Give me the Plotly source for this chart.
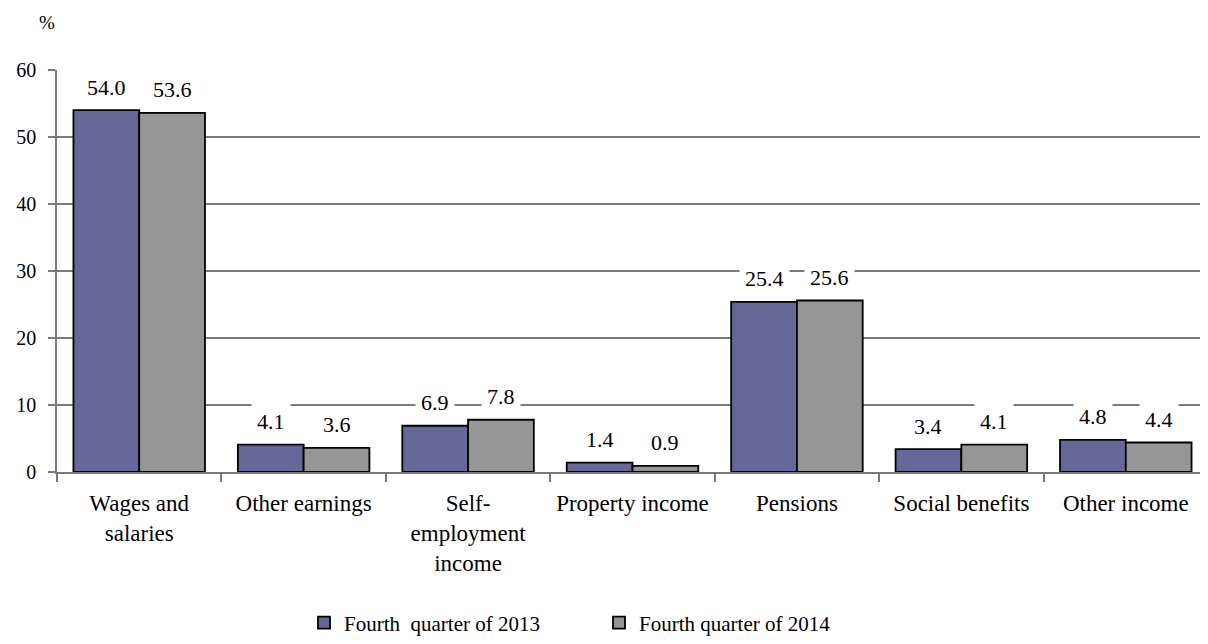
import plotly.graph_objects as go

categories = ["Wages and<br>salaries", "Other earnings", "Self-<br>employment<br>income",
              "Property income", "Pensions", "Social benefits", "Other income"]
q4_2013 = [54.0, 4.1, 6.9, 1.4, 25.4, 3.4, 4.8]
q4_2014 = [53.6, 3.6, 7.8, 0.9, 25.6, 4.1, 4.4]
series_names = ["Fourth  quarter of 2013", "Fourth quarter of 2014"]
colors = ["#666699", "#969696"]

FONT = "Liberation Serif"
GRID = "#7a7a7a"

# page body has an ~8px offset; compensate in margins
L, T, R, B = 49, 62, 8, 172
PW, PH = 1208 - L - R, 644 - T - B

fig = go.Figure()
for name, vals, col in zip(series_names, [q4_2013, q4_2014], colors):
    fig.add_trace(go.Bar(
        x=categories, y=vals, name=name,
        marker=dict(color=col, line=dict(color="black", width=1.8)),
    ))

annotations = []
for si, vals in enumerate([q4_2013, q4_2014]):
    off = -0.2 if si == 0 else 0.2
    for i, v in enumerate(vals):
        annotations.append(dict(
            x=i + off, y=v, xref="x", yref="y", text=f"{v:.1f}",
            showarrow=False, yanchor="middle", yshift=23,
            bgcolor="white", borderpad=5,
            font=dict(family=FONT, size=22, color="black"),
        ))
annotations.append(dict(
    x=(47 - 57) / PW, y=1 + (70 - 22) / PH, xref="paper", yref="paper",
    text="%", showarrow=False, xanchor="center", yanchor="middle",
    font=dict(family=FONT, size=19, color="black"),
))

fig.update_layout(
    width=1208, height=644,
    margin=dict(l=L, r=R, t=T, b=B),
    paper_bgcolor="white", plot_bgcolor="white",
    barmode="group", bargap=0.2, bargroupgap=0,
    font=dict(family=FONT, size=20, color="black"),
    showlegend=True,
    legend=dict(
        orientation="h", x=(317 - 13 - 57) / PW, y=-(629 - 475) / PH,
        xanchor="left", yanchor="middle",
        entrywidth=250, entrywidthmode="pixels",
        font=dict(family=FONT, size=21, color="black"),
    ),
    annotations=annotations,
    xaxis=dict(
        type="category", showline=True, linecolor=GRID, linewidth=1.5,
        ticks="outside", tickson="boundaries", ticklen=8, tickcolor=GRID, tickwidth=1.5,
        ticklabelstandoff=10,
        showgrid=False, tickfont=dict(family=FONT, size=23, color="black"),
    ),
    yaxis=dict(
        range=[0, 60], tickvals=[0, 10, 20, 30, 40, 50, 60],
        showline=True, linecolor=GRID, linewidth=1.5,
        ticks="outside", ticklen=7, tickcolor=GRID, tickwidth=1.5,
        ticklabelstandoff=8,
        showgrid=True, gridcolor=GRID, gridwidth=1.5, zeroline=False,
        tickfont=dict(family=FONT, size=20, color="black"),
    ),
)

fig.write_html("out.html")
